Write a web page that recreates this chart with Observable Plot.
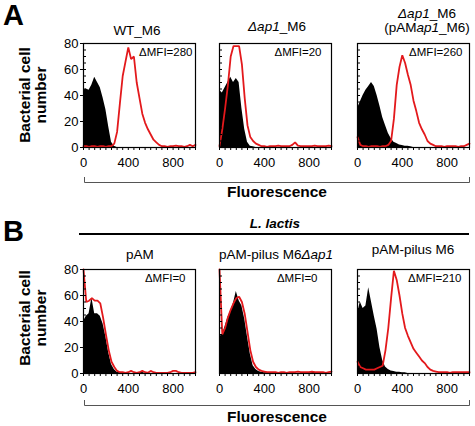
<!DOCTYPE html>
<html><head><meta charset="utf-8">
<script src="https://cdn.jsdelivr.net/npm/d3@7"></script>
<script src="https://cdn.jsdelivr.net/npm/@observablehq/plot@0.6"></script>
<style>
body{margin:0;background:#fff;}
#fig{position:relative;width:475px;height:426px;overflow:hidden;font-family:"Liberation Sans",Arial,Helvetica,sans-serif;}
#fig svg{position:absolute;}
</style></head><body><div id="fig"></div>
<script>
// Fluorescence channel bins (x)
const bins = [0,25,50,75,100,125,150,175,200,225,250,275,300,325,350,375,400,425,450,475,500,525,550,575,600,625,650,675,700,725,750,775,800,825,850,875,900,925,950,975,1000];

// Panel A – WT_M6
const wtBlack = [44,45,44,48,54,50,46,38,29,16,4,1,0,0,0,0,0,0,0,0,0,0,0,0,0,0,0,0,0,0,0,0,0,0,0,0,0,0,0,0,0];
const wtRed   = [1,1,0.5,1,1,0.5,1,1,0.5,1,1,3,12,34,55,66,77,68,70,50,38,26,19,14,10,6,4,2,1,1,0.5,1,1,1.5,1,1,0.5,1,2,1,2];
// Panel A – Δap1_M6
const dapBlack = [44,42,46,50,54,50,53,50,30,14,4,1,0.5,0,0,0,0,0,0,0,0,0,0,0,0,0,0,0,0,0,0,0,0,0,0,0,0,0,0,0,0];
const dapRed   = [1,14,30,48,70,78,78,78,64,38,17,8,5,3,2,1,1,0.5,1,1,1,1.5,1,1,1,1,2,4,1.5,1,1,1,1,1,1.5,1,1,1,1,1.5,1];
// Panel A – Δap1_M6 (pAMap1_M6)
const compBlack = [30,35,40,44,47,50,47,40,32,23,17,11,7,4,3,2,1.5,1,1,0.5,0,0,0,0,0,0,0,0,0,0,0,0,0,0,0,0,0,0,0,0,0];
const compRed   = [8,2,1,1,0.5,1,1,1,0.5,1,1,2,5,22,48,62,71,65,56,48,36,28,19,14,10,5,3,2,1,1,1,0.5,1,1,1,1,0.5,1,1,2,3];
// Panel B – pAM
const pamBlack = [40,44,46,58,46,46,44,38,28,16,7,3,1,0.5,0,0,0,0,0,0,0.5,1,0,0,0,0,0,0,0,0,0,0,0,0,0,0,0,0,0,0,0];
const pamRed   = [80,55,56,58,56,56,54,43,30,18,9,5,2,1,1,0.5,1,2,1,0.5,1,2,1,0.5,2,1,0.5,0.5,0.5,0.5,0.5,1,2,2,1,0.5,0.5,0.5,0.5,0.5,1];
// Panel B – pAM-pilus M6Δap1
const pilDapBlack = [28,30,36,43,48,54,63,56,52,42,28,15,6,3,1.5,1,0.5,0.5,0,0,0,0,0,0,0,0,0,0,0,0,0,0,0,0.5,1,0.5,0,0,0,0,0];
const pilDapRed   = [80,30,35,43,49,54,58,59,55,46,32,18,9,5,3,2,1.5,1,1,1,1,0.5,1,1,0.5,1,1,1,1.5,1,1,1,1,1.5,1,1,1,1,0.5,1,1.5];
// Panel B – pAM-pilus M6
const pilBlack = [46,55,50,52,66,55,44,34,20,10,5,3,2,1.5,1,1,0.5,0.5,0,0,0,0,0,0,0,0,0,0,0,0,0,0,0,0,0,0,0,0,0,0,0];
const pilRed   = [9,5,4,3,3,3,3,4,5,6,18,35,58,79,72,60,46,35,29,24,19,16,13,10,8,5,3,2,1.5,1,1,1,1,0.5,1,1,1,1,1,1,1];

const mfiLabels = ["ΔMFI=280","ΔMFI=20","ΔMFI=260","ΔMFI=0","ΔMFI=0","ΔMFI=210"];
const xTickLabels = [0,400,800];
const xMinorTicks = [0,50,100,150,200,250,300,350,400,450,500,550,600,650,700,750,800,850,900,950,1000];
const yTickLabels = [0,20,40,60,80];
const yMinorTicks = [0,5,10,15,20,25,30,35,40,45,50,55,60,65,70,75,80];

const FONT = '"Liberation Sans", Arial, Helvetica, sans-serif';
const RED = "#e3191c";
const PW = 112, PH = 104;
const ML = 30, MR = 6, MT = 4, MB = 26;
const colLeft = [83, 219, 357];
const rowTop = [43, 269];
const mfiDx = [3, 10, 7, 10, 14, 8];

const panels = [
  [wtBlack, wtRed], [dapBlack, dapRed], [compBlack, compRed],
  [pamBlack, pamRed], [pilDapBlack, pilDapRed], [pilBlack, pilRed]
];

const fig = document.getElementById("fig");

panels.forEach(([black, red], i) => {
  const col = i % 3, row = Math.floor(i / 3);
  const dBlack = bins.map((x, j) => ({x, y: black[j]}));
  const dRed = bins.map((x, j) => ({x, y: red[j]}));
  const chart = Plot.plot({
    width: PW + ML + MR, height: PH + MT + MB,
    marginLeft: ML, marginRight: MR, marginTop: MT, marginBottom: MB,
    style: {background: "transparent", fontFamily: FONT, fontSize: "13px", color: "black", overflow: "visible"},
    x: {domain: [0, 1000]},
    y: {domain: [0, 80]},
    marks: [
      Plot.areaY(dBlack, {x: "x", y: "y", curve: "linear", fill: "black"}),
      Plot.lineY(dRed, {x: "x", y: "y", curve: "linear", stroke: RED, strokeWidth: 1.8, strokeLinejoin: "miter"}),
      Plot.frame({stroke: "black", strokeWidth: 1.2}),
      Plot.axisX({ticks: xTickLabels, tickSize: 0, tickPadding: 10, label: null}),
      Plot.axisX({ticks: xMinorTicks, tickSize: 3, tickFormat: () => "", label: null}),
      col === 0 ? Plot.axisY({ticks: yTickLabels, tickSize: 3, tickPadding: 2, label: null}) : null,
      Plot.axisY({ticks: yMinorTicks, tickSize: -3, tickFormat: () => "", label: null}),
      Plot.text([mfiLabels[i]], {frameAnchor: "top-right", dx: -mfiDx[i], dy: 4, fontSize: 11.5, fill: "black"})
    ]
  });
  chart.style.left = (colLeft[col] - ML) + "px";
  chart.style.top = (rowTop[row] - MT) + "px";
  fig.appendChild(chart);
});

// Annotation overlay
const svg = d3.select(fig).append("svg")
  .attr("width", 475).attr("height", 426)
  .style("left", "0px").style("top", "0px")
  .style("font-family", FONT)
  .style("pointer-events", "none");

svg.append("text").attr("x", 3).attr("y", 25).attr("font-size", 29).attr("font-weight", "bold").text("A");
svg.append("text").attr("x", 3).attr("y", 241).attr("font-size", 29).attr("font-weight", "bold").text("B");

[95, 318].forEach(cy => {
  const g = svg.append("g").attr("transform", `translate(0,${cy}) rotate(-90)`)
    .attr("font-weight", "bold").attr("font-size", 15.5).attr("text-anchor", "middle");
  g.append("text").attr("x", 0).attr("y", 29.5).text("Bacterial cell");
  g.append("text").attr("x", 0).attr("y", 46).text("number");
});

function title(x, y, parts) {
  const t = svg.append("text").attr("x", x).attr("y", y).attr("text-anchor", "middle").attr("font-size", 13.5);
  parts.forEach(([s, it]) => t.append("tspan").attr("font-style", it ? "italic" : "normal").text(s));
}
title(137, 35, [["WT_M6", false]]);
title(277, 31, [["Δap1", true], ["_M6", false]]);
title(427, 17.5, [["Δap1", true], ["_M6", false]]);
title(427, 31.5, [["(pAM", false], ["ap1", true], ["_M6)", false]]);
title(140, 259, [["pAM", false]]);
title(276, 259, [["pAM-pilus M6", false], ["Δap1", true]]);
title(413, 254, [["pAM-pilus M6", false]]);

svg.append("text").attr("x", 275).attr("y", 228).attr("text-anchor", "middle")
  .attr("font-size", 13.5).attr("font-weight", "bold").attr("font-style", "italic").text("L. lactis");
svg.append("line").attr("x1", 79).attr("x2", 469).attr("y1", 234).attr("y2", 234)
  .attr("stroke", "black").attr("stroke-width", 1.8);

[[182, 197], [405, 422]].forEach(([by, ty]) => {
  svg.append("path").attr("d", `M84.5,${by - 5}V${by + 0.5}H469.5V${by - 5}`)
    .attr("fill", "none").attr("stroke", "#555").attr("stroke-width", 1);
  svg.append("text").attr("x", 277).attr("y", ty).attr("text-anchor", "middle")
    .attr("font-size", 15.5).attr("font-weight", "bold").text("Fluorescence");
});
</script>
</body></html>
